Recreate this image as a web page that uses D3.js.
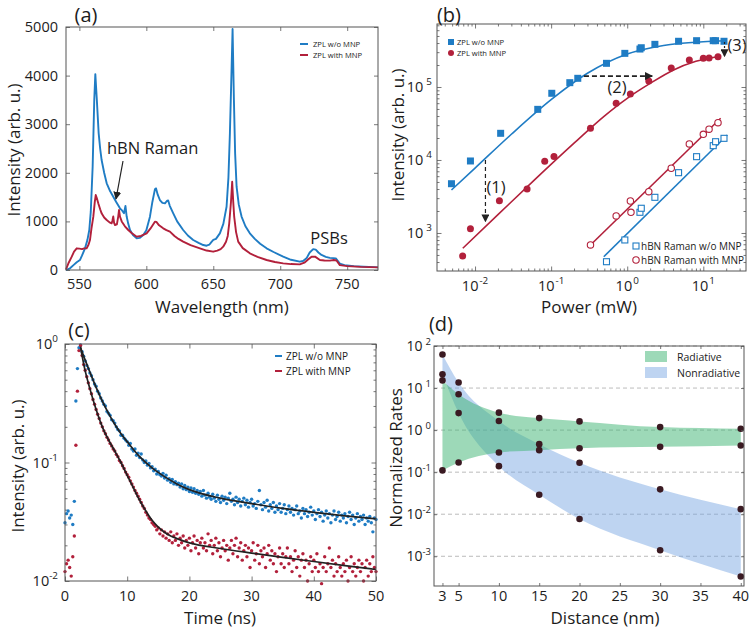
<!DOCTYPE html>
<html><head><meta charset="utf-8">
<script src="https://cdn.jsdelivr.net/npm/d3@7"></script>
<style>body{margin:0;background:#fff} text{font-family:"Open Sans",Lato,sans-serif;fill:#1c1c1c}</style>
</head><body><svg id="c" width="750" height="629"></svg>
<script>
// ================= DATA =================
// (a) PL spectra [wavelength nm, intensity]
const specNoMNP = [[540,0],[543,35],[546,110],[548,160],[550.4,205],[552,300],[554.2,446],[556,620],[557.4,823],[558.5,1200],[559.9,2126],[561.1,3498],[561.9,4030],[562.9,3566],[564.4,2812],[565.5,2500],[566.6,2263],[568.5,2000],[570.4,1783],[573,1620],[575.3,1509],[577.5,1400],[580.3,1269],[582,1220],[583.3,1166],[584.4,1320],[585.3,1100],[586.5,950],[587.8,823],[590,720],[592.8,652],[595,660],[597.7,720],[600,820],[602.7,1097],[604.5,1400],[606.4,1660],[607.2,1680],[608.5,1550],[610.1,1440],[612,1380],[613.9,1372],[615.3,1420],[616.3,1430],[617.5,1320],[620.1,1166],[623,1000],[627.5,823],[631,710],[635,617],[639,560],[642.5,514],[645,500],[647,520],[648.7,580],[650,620],[652,640],[654.9,754],[657.5,950],[659.9,1302],[661.3,1900],[662.4,2812],[663.7,4183],[664.4,4960],[665.4,3500],[666.3,2400],[667.4,1714],[669,1350],[671.1,1100],[674,900],[677.3,754],[681,640],[685,540],[689.8,446],[695,370],[702.2,274],[708,210],[714.6,171],[717,185],[719.6,240],[722,360],[724.6,430],[726.5,420],[728.5,360],[730.8,309],[734,270],[737,250],[739.5,245],[741.5,240],[744.5,130],[748,100],[755,80],[762,70],[770.6,60],[773,55]];
const specWithMNP = [[540,10],[542,150],[544.3,274],[546,380],[548,446],[550,440],[552,430],[553.5,445],[555.4,446],[556.8,520],[557.9,617],[559,850],[560.4,1097],[561.5,1400],[562.2,1543],[563,1480],[564.1,1372],[565.5,1250],[566.6,1166],[568.5,1080],[570.4,1029],[572.5,980],[574.1,960],[574.7,1020],[575.3,1100],[575.9,970],[576.6,926],[578,940],[579,1100],[579.6,1234],[580.3,1100],[581.6,1000],[584,900],[586.5,823],[589,760],[592.8,686],[596,700],[600.2,754],[603,850],[606.4,994],[607.5,990],[609.5,920],[612.6,857],[615,820],[617.6,789],[621,700],[624,640],[627.5,583],[633,510],[640,446],[645,400],[649.9,377],[653,400],[655.5,430],[657.4,480],[659.5,580],[660.8,700],[661.9,960],[663.2,1400],[664.1,1817],[664.9,1400],[665.6,1097],[667,780],[668.6,583],[672,450],[677.3,343],[683,270],[689.8,206],[696,165],[702.2,137],[708,122],[714.6,116],[718,150],[721,220],[723.4,274],[726,275],[729.6,206],[733,195],[737,192],[740,205],[742,195],[744.5,100],[750,80],[760,65],[773,55]];
const ticksAx = [550,600,650,700,750];
const ticksAy = [0,1000,2000,3000,4000,5000];

// (b) power dependence
const zplNoP = [0.0049,0.0087,0.0217,0.0667,0.102,0.176,0.224,0.534,0.93,1.47,1.53,2.31,4.73,8.16,13.5,14.5,18.7];
const zplNoI = [4730,9690,23200,49400,82000,114600,131500,211000,289000,331000,345000,384000,423000,431000,431000,431000,423000];
const zplWithP = [0.00687,0.0087,0.0209,0.0483,0.0824,0.109,0.329,0.716,1.10,1.92,3.79,6.55,10,11.9,15.6];
const zplWithI = [484,1146,2770,4010,9600,11200,27200,59800,80100,120800,182000,234000,247000,250000,260000];
const ramNoP = [0.534,0.93,1.47,1.53,2.31,4.73,8.16,13.5,14.5,18.7];
const ramNoI = [404,802,1920,2180,3080,6700,11100,15700,17800,19800];
const ramWithP = [0.329,0.716,1.10,1.12,1.92,3.79,6.55,10,11.9,15.6];
const ramWithI = [685,1710,2740,1920,3680,7700,16600,22500,26400,32400];
const fitZplNo = [[0.0049,3880],[0.01,7750],[0.03,22500],[0.1,67000],[0.3,154000],[1,283000],[3,371000],[10,417000],[19.5,430000]];
const fitZplWith = [[0.0069,617],[0.02,1780],[0.06,5300],[0.2,17000],[0.5,40000],[1,70000],[2,112000],[4,170000],[8,225000],[16,262000]];
const fitRamNo = [[0.492,473],[20.7,22000]];
const fitRamWith = [[0.329,685],[16.9,37300]];
const decB = [0.01,0.1,1,10];
const decBy = [1e3,1e4,1e5];

// (c) lifetime decays (sampled every 0.25 ns from 0 to 50 ns)
const decayNoMNP = [0.031,0.037,0.039,0.034,0.036,0.030,0.047,0.33,0.62,0.93,0.98,0.86,0.79,0.72,0.66,0.62,0.57,0.54,0.50,0.46,0.44,0.40,0.38,0.35,0.33,0.31,0.30,0.27,0.26,0.25,0.23,0.225,0.215,0.20,0.19,0.185,0.17,0.17,0.16,0.155,0.15,0.14,0.145,0.13,0.125,0.13,0.115,0.12,0.11,0.118,0.105,0.10,0.103,0.095,0.098,0.09,0.092,0.085,0.088,0.08,0.084,0.079,0.077,0.081,0.074,0.078,0.071,0.073,0.068,0.072,0.066,0.069,0.065,0.067,0.062,0.066,0.06,0.064,0.059,0.062,0.057,0.061,0.056,0.06,0.055,0.058,0.054,0.057,0.052,0.058,0.053,0.05,0.055,0.051,0.049,0.054,0.05,0.047,0.053,0.049,0.046,0.052,0.048,0.051,0.045,0.05,0.055,0.047,0.049,0.044,0.051,0.046,0.049,0.043,0.047,0.05,0.044,0.048,0.042,0.046,0.049,0.043,0.045,0.041,0.047,0.058,0.044,0.04,0.046,0.042,0.048,0.039,0.044,0.041,0.046,0.038,0.043,0.04,0.045,0.038,0.041,0.044,0.037,0.04,0.043,0.038,0.041,0.036,0.04,0.043,0.037,0.039,0.034,0.041,0.037,0.04,0.035,0.038,0.042,0.036,0.039,0.033,0.037,0.04,0.035,0.038,0.032,0.036,0.039,0.034,0.037,0.031,0.036,0.039,0.033,0.035,0.038,0.032,0.036,0.034,0.037,0.031,0.035,0.038,0.033,0.036,0.03,0.034,0.037,0.032,0.035,0.033,0.036,0.03,0.034,0.032,0.035,0.031,0.026,0.034,0.033];
const decayWithMNP = [0.012,0.014,0.015,0.013,0.011,0.016,0.024,0.14,0.40,0.88,0.97,0.80,0.67,0.60,0.53,0.47,0.42,0.38,0.34,0.31,0.28,0.255,0.235,0.215,0.20,0.185,0.175,0.163,0.155,0.145,0.138,0.13,0.125,0.117,0.112,0.104,0.10,0.094,0.089,0.083,0.079,0.075,0.07,0.066,0.062,0.058,0.055,0.052,0.049,0.046,0.043,0.041,0.038,0.036,0.034,0.033,0.031,0.03,0.029,0.027,0.028,0.025,0.027,0.024,0.026,0.023,0.025,0.022,0.026,0.021,0.024,0.022,0.025,0.02,0.023,0.021,0.024,0.019,0.022,0.02,0.023,0.018,0.021,0.024,0.019,0.022,0.017,0.021,0.023,0.019,0.021,0.018,0.025,0.02,0.022,0.017,0.02,0.023,0.018,0.021,0.016,0.019,0.022,0.018,0.02,0.015,0.019,0.022,0.017,0.02,0.023,0.016,0.019,0.021,0.015,0.018,0.02,0.016,0.019,0.013,0.018,0.021,0.015,0.017,0.02,0.014,0.018,0.016,0.019,0.013,0.017,0.02,0.015,0.018,0.014,0.017,0.012,0.016,0.019,0.014,0.017,0.013,0.016,0.019,0.014,0.016,0.012,0.015,0.018,0.013,0.016,0.011,0.015,0.017,0.013,0.015,0.01,0.014,0.016,0.012,0.015,0.013,0.017,0.012,0.014,0.0095,0.013,0.016,0.012,0.014,0.019,0.013,0.015,0.011,0.014,0.012,0.016,0.013,0.011,0.014,0.012,0.015,0.01,0.013,0.016,0.012,0.014,0.011,0.013,0.015,0.012,0.014,0.01,0.013,0.015,0.011,0.014,0.012,0.016,0.013,0.012];
const fitDecayNo = [[2.5,0.93],[3,0.79],[4,0.58],[5,0.43],[6,0.33],[7,0.26],[8,0.21],[9,0.175],[10,0.15],[12,0.112],[14,0.09],[16,0.076],[18,0.066],[20,0.059],[25,0.05],[30,0.045],[35,0.041],[40,0.038],[45,0.0355],[50,0.0335]];
const fitDecayWith = [[2.5,0.95],[3,0.68],[4,0.42],[5,0.28],[6,0.2],[7,0.155],[8,0.125],[9,0.1],[10,0.078],[11,0.061],[12,0.048],[13,0.039],[14,0.0325],[15,0.0285],[16,0.0258],[17,0.024],[18,0.0228],[20,0.021],[25,0.0188],[30,0.0172],[35,0.0158],[40,0.0146],[45,0.0135],[50,0.0125]];
const ticksCx = [0,10,20,30,40,50];
const decC = [0.01,0.1,1];

// (d) normalized rates vs distance
const distNm = [3,5,10,15,20,30,40];
const radUpper = [15.2,7.1,2.6,1.93,1.61,1.18,1.08];
const radLower = [0.11,0.17,0.294,0.334,0.37,0.40,0.43];
const nonUpper = [63,13.5,1.64,0.464,0.168,0.039,0.0132];
const nonLower = [21.2,2.54,0.139,0.029,0.0077,0.00139,0.00033];
const ticksDx = [3,5,10,15,20,25,30,35,40];
const decD = [1e-3,1e-2,1e-1,1,10,100];

// ================= DRAWING =================
const svg = d3.select("#c");
const BLUE = "#1f7cc4", RED = "#b2203b", AX = "#555";
const defs = svg.append("defs");
defs.append("marker").attr("id","arr").attr("viewBox","0 0 10 10").attr("refX",9).attr("refY",5)
  .attr("markerWidth",8).attr("markerHeight",8).attr("markerUnits","userSpaceOnUse").attr("orient","auto")
  .append("path").attr("d","M0,0L10,5L0,10z").attr("fill","#222");

function box(g,x,y){
  const [L,R]=x.range(), [B,T]=y.range();
  g.append("rect").attr("x",L).attr("y",T).attr("width",R-L).attr("height",B-T)
   .attr("fill","none").attr("stroke",AX).attr("stroke-width",1);
}
function tickSet(g,x,y,xv,yv,len){
  const [L,R]=x.range(), [B,T]=y.range();
  const defsA=[[d3.axisBottom(x).tickValues(xv),`translate(0,${B})`],[d3.axisTop(x).tickValues(xv),`translate(0,${T})`],
    [d3.axisLeft(y).tickValues(yv),`translate(${L},0)`],[d3.axisRight(y).tickValues(yv),`translate(${R},0)`]];
  defsA.forEach(([ax,tr])=>{
    const a=g.append("g").attr("transform",tr).call(ax.tickSize(-len).tickFormat(""));
    a.select(".domain").remove(); a.selectAll("text").remove();
    a.selectAll("line").attr("stroke",AX).attr("stroke-width",0.8);
  });
}
function minors(dom){
  const out=[]; const lo=Math.floor(Math.log10(dom[0])), hi=Math.ceil(Math.log10(dom[1]));
  for(let e=lo;e<=hi;e++) for(let m=2;m<=9;m++){const v=m*Math.pow(10,e); if(v>dom[0]&&v<dom[1]) out.push(v);}
  return out;
}
function txt(g,x,y,s,fs,anchor,rot){
  const t=g.append("text").attr("x",x).attr("y",y).attr("font-size",fs).attr("text-anchor",anchor||"start").text(s);
  if(rot) t.attr("transform",`rotate(${rot},${x},${y})`);
  return t;
}
function pow(g,x,y,exp,fs,anchor,gap){
  const t=g.append("text").attr("x",x).attr("y",y).attr("font-size",fs).attr("text-anchor",anchor);
  t.append("tspan").text("10");
  t.append("tspan").attr("dx",gap||0).attr("dy",-fs*0.45).attr("font-size",fs*0.68).text(exp);
}

// ---------- (a) ----------
{
  const g=svg.append("g");
  const x=d3.scaleLinear([540,773],[66,378]), y=d3.scaleLinear([0,5000],[270,27]);
  tickSet(g,x,y,ticksAx,ticksAy,4);
  const line=d3.line().x(d=>x(d[0])).y(d=>y(d[1]));
  g.append("path").datum(specNoMNP).attr("d",line).attr("fill","none").attr("stroke",BLUE).attr("stroke-width",1.9).attr("stroke-linejoin","round");
  g.append("path").datum(specWithMNP).attr("d",line).attr("fill","none").attr("stroke",RED).attr("stroke-width",1.9).attr("stroke-linejoin","round");
  box(g,x,y);
  ticksAx.forEach(v=>txt(g,x(v),289,v,14.5,"middle"));
  ticksAy.forEach(v=>txt(g,58,y(v)+5,v,14.5,"end"));
  txt(g,222,313,"Wavelength (nm)",17,"middle");
  txt(g,20,150,"Intensity (arb. u.)",17,"middle",-90);
  txt(g,86,22,"(a)",20,"middle");
  [[BLUE,"ZPL w/o MNP",44],[RED,"ZPL with MNP",55]].forEach(([c,s,yy])=>{
    g.append("line").attr("x1",300).attr("x2",308).attr("y1",yy).attr("y2",yy).attr("stroke",c).attr("stroke-width",2);
    txt(g,313,yy+3,s,7.6,"start");
  });
  txt(g,107,154,"hBN Raman",16.5,"start");
  g.append("line").attr("x1",123).attr("y1",161).attr("x2",116).attr("y2",199).attr("stroke","#222").attr("stroke-width",1.2).attr("marker-end","url(#arr)");
  txt(g,329,244,"PSBs",16.5,"middle");
}

// ---------- (b) ----------
{
  const g=svg.append("g");
  const x=d3.scaleLog([Math.pow(10,-2.5),36.4],[437,746]), y=d3.scaleLog([Math.pow(10,2.479),Math.pow(10,5.863)],[271,24]);
  tickSet(g,x,y,decB,decBy,4.5);
  tickSet(g,x,y,minors(x.domain()),minors(y.domain()),2.5);
  const line=d3.line().x(d=>x(d[0])).y(d=>y(d[1])).curve(d3.curveMonotoneX);
  [[fitZplNo,BLUE],[fitZplWith,RED],[fitRamNo,BLUE],[fitRamWith,RED]].forEach(([d,c])=>
    g.append("path").datum(d).attr("d",line).attr("fill","none").attr("stroke",c).attr("stroke-width",1.6));
  zplNoP.forEach((p,i)=>g.append("rect").attr("x",x(p)-3.5).attr("y",y(zplNoI[i])-3.5).attr("width",7).attr("height",7).attr("fill",BLUE));
  zplWithP.forEach((p,i)=>g.append("circle").attr("cx",x(p)).attr("cy",y(zplWithI[i])).attr("r",3.5).attr("fill",RED));
  ramNoP.forEach((p,i)=>g.append("rect").attr("x",x(p)-3).attr("y",y(ramNoI[i])-3).attr("width",6).attr("height",6).attr("fill","#fff").attr("stroke",BLUE).attr("stroke-width",1.1));
  ramWithP.forEach((p,i)=>g.append("circle").attr("cx",x(p)).attr("cy",y(ramWithI[i])).attr("r",3.2).attr("fill","#fff").attr("stroke",RED).attr("stroke-width",1.1));
  g.append("line").attr("x1",x(0.0137)).attr("x2",x(0.0137)).attr("y1",y(1e4)).attr("y2",y(1430))
    .attr("stroke","#222").attr("stroke-width",1.2).attr("stroke-dasharray","4,3").attr("marker-end","url(#arr)");
  g.append("line").attr("x1",x(0.27)).attr("x2",x(2.13)).attr("y1",y(141000)).attr("y2",y(141000))
    .attr("stroke","#222").attr("stroke-width",1.8).attr("stroke-dasharray","5,3").attr("marker-end","url(#arr)");
  g.append("line").attr("x1",x(19)).attr("x2",x(19)).attr("y1",y(415000)).attr("y2",y(262000))
    .attr("stroke","#222").attr("stroke-width",1.2).attr("stroke-dasharray","2,2").attr("marker-end","url(#arr)");
  txt(g,496,193,"(1)",16.5,"middle");
  txt(g,617,93,"(2)",16.5,"middle");
  txt(g,737,51,"(3)",16.5,"middle");
  box(g,x,y);
  decB.forEach(v=>pow(g,x(v),291,String(Math.round(Math.log10(v))),14.5,"middle",1));
  decBy.forEach(v=>pow(g,432,y(v)+5,String(Math.round(Math.log10(v))),14.5,"end",3));
  txt(g,589,313,"Power (mW)",17,"middle");
  txt(g,404,135,"Intensity (arb. u.)",17,"middle",-90);
  txt(g,449,22,"(b)",20,"middle");
  g.append("rect").attr("x",448).attr("y",39).attr("width",6).attr("height",6).attr("fill",BLUE);
  txt(g,457,45,"ZPL w/o MNP",7.6,"start");
  g.append("circle").attr("cx",451).attr("cy",53).attr("r",3).attr("fill",RED);
  txt(g,457,56,"ZPL with MNP",7.6,"start");
  g.append("rect").attr("x",633).attr("y",243).attr("width",6).attr("height",6).attr("fill","#fff").attr("stroke",BLUE).attr("stroke-width",1.1);
  txt(g,641,250,"hBN Raman w/o MNP",10,"start");
  g.append("circle").attr("cx",636).attr("cy",260).attr("r",3.2).attr("fill","#fff").attr("stroke",RED).attr("stroke-width",1.1);
  txt(g,641,264,"hBN Raman with MNP",10,"start");
}

// ---------- (c) ----------
{
  const g=svg.append("g");
  const x=d3.scaleLinear([0,50],[65,376]), y=d3.scaleLog([0.01,1],[581,344]);
  tickSet(g,x,y,ticksCx,decC,4.5);
  tickSet(g,x,y,[],minors(y.domain()),2.5);
  const tStep=0.25;
  decayNoMNP.forEach((v,i)=>g.append("circle").attr("cx",x(i*tStep)).attr("cy",y(v)).attr("r",1.7).attr("fill",BLUE));
  decayWithMNP.forEach((v,i)=>{ if(v>=0.0095) g.append("circle").attr("cx",x(i*tStep)).attr("cy",y(v)).attr("r",1.7).attr("fill",RED);});
  const line=d3.line().x(d=>x(d[0])).y(d=>y(d[1])).curve(d3.curveMonotoneX);
  [fitDecayNo,fitDecayWith].forEach(d=>g.append("path").datum(d).attr("d",line).attr("fill","none").attr("stroke","#222").attr("stroke-width",1.7));
  box(g,x,y);
  ticksCx.forEach(v=>txt(g,x(v),601,v,14.5,"middle"));
  decC.forEach(v=>pow(g,58,y(v)+5,String(Math.round(Math.log10(v))),14.5,"end",0));
  txt(g,220,624,"Time (ns)",17,"middle");
  txt(g,24,466,"Intensity (arb. u.)",17,"middle",-90);
  txt(g,79,337,"(c)",20,"middle");
  [[BLUE,"ZPL w/o MNP",356],[RED,"ZPL with MNP",371]].forEach(([c,s,yy])=>{
    g.append("line").attr("x1",275).attr("x2",282).attr("y1",yy).attr("y2",yy).attr("stroke",c).attr("stroke-width",2);
    txt(g,286,yy+3.5,s,10,"start");
  });
}

// ---------- (d) ----------
{
  const g=svg.append("g");
  const x=d3.scaleLinear([1.95,40.4],[434,744]), y=d3.scaleLog([Math.pow(10,-3.707),100],[586,346]);
  decD.forEach(v=>g.append("line").attr("x1",434).attr("x2",744).attr("y1",y(v)).attr("y2",y(v))
    .attr("stroke","#aaa").attr("stroke-width",0.8).attr("stroke-dasharray","4,3"));
  const idx=d3.range(distNm.length);
  const area=(lo,hi)=>d3.area().x(i=>x(distNm[i])).y0(i=>y(lo[i])).y1(i=>y(hi[i])).curve(d3.curveMonotoneX);
  g.append("path").datum(idx).attr("d",area(nonLower,nonUpper)).attr("fill","#6f9fe0").attr("fill-opacity",0.45);
  g.append("path").datum(idx).attr("d",area(radLower,radUpper)).attr("fill","#3cb371").attr("fill-opacity",0.5);
  [radUpper,radLower,nonUpper,nonLower].forEach(arr=>arr.forEach((v,i)=>
    g.append("circle").attr("cx",x(distNm[i])).attr("cy",y(v)).attr("r",3.3).attr("fill","#3a1a22")));
  tickSet(g,x,y,ticksDx,decD,3);
  box(g,x,y);
  ticksDx.forEach(v=>txt(g,x(v),601,v,14.5,"middle"));
  decD.forEach(v=>{const e=Math.round(Math.log10(v)); pow(g,431,y(v)+5,String(e),14,"end",e>=0?3:0);});
  txt(g,605,624,"Distance (nm)",17,"middle");
  txt(g,402,458,"Normalized Rates",17,"middle",-90);
  txt(g,441,331,"(d)",20,"middle");
  g.append("rect").attr("x",645).attr("y",351).attr("width",22).attr("height",11).attr("fill","#3cb371").attr("fill-opacity",0.5);
  txt(g,677,361,"Radiative",10.5,"start");
  g.append("rect").attr("x",645).attr("y",367).attr("width",22).attr("height",11).attr("fill","#6f9fe0").attr("fill-opacity",0.45);
  txt(g,677,377,"Nonradiative",10.5,"start");
}
</script></body></html>
